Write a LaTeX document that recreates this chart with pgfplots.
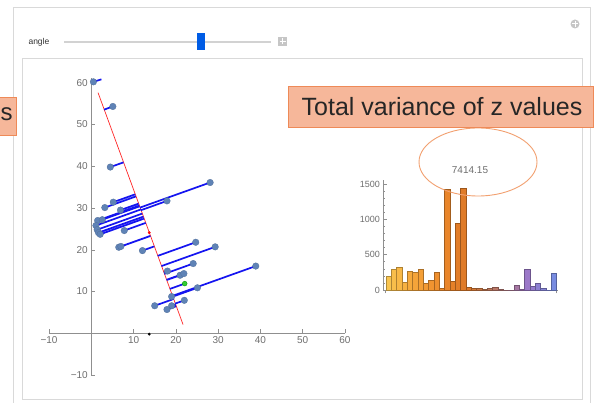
\documentclass[border=0pt]{standalone}
\usepackage{fontspec}
\setmainfont{Liberation Sans}
\usepackage{pgfplots}
\pgfplotsset{compat=1.18}
\definecolor{ptblue}{HTML}{5F83B6}
\definecolor{segblue}{HTML}{1414F0}
\definecolor{axgray}{HTML}{8F8F8F}
\definecolor{lblgray}{HTML}{6E6E6E}
\definecolor{boxfill}{HTML}{F6B79A}
\definecolor{boxedge}{HTML}{EE8A58}
\definecolor{ellcol}{HTML}{F2A070}
\definecolor{h0}{HTML}{F9C550}\definecolor{h1}{HTML}{F8BE4B}\definecolor{h2}{HTML}{F8B846}\definecolor{h3}{HTML}{F7B141}
\definecolor{h4}{HTML}{F6AA3C}\definecolor{h5}{HTML}{F5A439}\definecolor{h6}{HTML}{F49F36}\definecolor{h7}{HTML}{F29933}
\definecolor{h8}{HTML}{F19430}\definecolor{h9}{HTML}{EE8F2E}\definecolor{h10}{HTML}{EC8A2C}\definecolor{h11}{HTML}{E9852A}
\definecolor{h12}{HTML}{E68028}\definecolor{h13}{HTML}{E37D28}\definecolor{h14}{HTML}{DF7B28}\definecolor{h15}{HTML}{DC7828}
\definecolor{h16}{HTML}{D47835}\definecolor{h17}{HTML}{CB7843}\definecolor{h18}{HTML}{C37850}\definecolor{h19}{HTML}{BE785B}
\definecolor{h20}{HTML}{B97767}\definecolor{h21}{HTML}{B47772}\definecolor{h22}{HTML}{AF767D}\definecolor{h23}{HTML}{AA7690}
\definecolor{h24}{HTML}{A577A3}\definecolor{h25}{HTML}{A077B5}\definecolor{h26}{HTML}{9B78C8}\definecolor{h27}{HTML}{947CCD}
\definecolor{h28}{HTML}{8D80D2}\definecolor{h29}{HTML}{8684D7}\definecolor{h30}{HTML}{7F88DC}\definecolor{h31}{HTML}{788CE1}
\pgfplotsset{hb/.style={ybar, bar shift=0pt, bar width=1, fill=#1, draw=#1!70!black, line width=0.3pt}}
\begin{document}
\begin{tikzpicture}[x=1pt,y=1pt]
\useasboundingbox (0,0) rectangle (607,403);
\fill[white] (0,0) rectangle (607,403);
% frames
\draw[gray!30, line width=0.8pt] (13,-5) -- (13,396) -- (590,396) -- (590,-5);
\draw[gray!30, line width=0.8pt] (22,4) rectangle (582,345);
% slider
\node[anchor=west, font=\fontsize{8.5}{8.5}\selectfont, text=black!80] at (25,361) {angle};
\draw[gray!35, line width=1.6pt] (64,361) -- (271,361);
\fill[blue!60!cyan!90!black] (197,353) rectangle (205,370);
\fill[gray!45] (278,357) rectangle (287,366);
\draw[white, line width=1pt] (279.5,361.5) -- (285.5,361.5) (282.5,358.5) -- (282.5,364.5);
\fill[gray!45] (575,379) circle (4.5);
\draw[white, line width=1pt] (572,379) -- (578,379) (575,376) -- (575,382);
% left cut box
\draw[boxedge, fill=boxfill, line width=0.8pt] (-5,268) rectangle (16,306);
\node[anchor=west, font=\fontsize{24}{24}\selectfont, text=black!85, inner sep=0pt] at (0.5,289) {s};
% scatter axis
\begin{axis}[at={(49pt,27.9pt)}, anchor=south west, scale only axis,
  width=296pt, height=296.6pt, xmin=-10, xmax=60, ymin=-10, ymax=61,
  axis lines=middle, axis line style={axgray, line width=0.6pt, -},
  xtick={-10,10,20,30,40,50,60}, ytick={-10,10,20,30,40,50,60},
  xticklabels={−10,10,20,30,40,50,60}, yticklabels={−10,10,20,30,40,50,60},
  minor tick num=4, tick align=inside,
  major tick length=4pt, minor tick length=2.2pt,
  tick style={axgray, line width=0.5pt},
  ticklabel style={font=\fontsize{10}{10}\selectfont, text=lblgray},
  unbounded coords=jump, clip=false]
\addplot[red!85!white, line width=0.7pt] coordinates {(1.6,57.6) (21.7,2.1)};
\addplot[segblue, line width=1.7pt] coordinates {
(0.5,60.2) (2.4,60.8) (0,nan)
(5.1,54.3) (3.03,53.55) (0,nan)
(4.5,39.8) (7.61,40.92) (0,nan)
(28.1,36.1) (11.53,30.10) (0,nan)
(17.9,31.7) (11.75,29.47) (0,nan)
(5.2,31.4) (10.38,33.27) (0,nan)
(3.2,30.1) (10.56,32.77) (0,nan)
(6.9,29.5) (11.18,31.05) (0,nan)
(1.5,27.0) (11.36,30.57) (0,nan)
(2.6,27.2) (11.42,30.40) (0,nan)
(1.1,25.8) (11.69,29.64) (0,nan)
(1.4,24.8) (12.05,28.66) (0,nan)
(1.7,24.1) (12.31,27.94) (0,nan)
(2.1,23.7) (12.48,27.46) (0,nan)
(7.8,24.6) (12.86,26.43) (0,nan)
(6.5,20.6) (13.99,23.31) (0,nan)
(7.0,20.8) (13.98,23.33) (0,nan)
(12.1,19.8) (14.89,20.81) (0,nan)
(24.7,21.8) (15.71,18.54) (0,nan)
(29.3,20.7) (16.60,16.10) (0,nan)
(24.1,16.7) (17.28,14.23) (0,nan)
(18.0,14.9) (17.15,14.59) (0,nan)
(21.0,13.9) (17.81,12.75) (0,nan)
(21.9,14.3) (17.79,12.81) (0,nan)
(22.1,11.9) (18.58,10.63) (0,nan)
(25.1,10.9) (19.25,8.78) (0,nan)
(38.9,16.1) (19.19,8.96) (0,nan)
(15.0,6.6) (19.46,8.21) (0,nan)
(22.0,7.9) (19.85,7.12) (0,nan)
(19.0,6.6) (19.92,6.93) (0,nan)
(17.9,5.7) (20.08,6.49) (0,nan)
(19.0,8.8) (19.21,8.88)
};
\addplot[only marks, mark=*, mark size=3.3pt, mark options={fill=ptblue, draw=ptblue!85!black, line width=0.3pt}] coordinates {
(0.5,60.2) (5.1,54.3) (4.5,39.8) (28.1,36.1) (17.9,31.7) (5.2,31.4) (3.2,30.1) (6.9,29.5)
(1.5,27.0) (2.6,27.2) (1.1,25.8) (1.4,24.8) (1.7,24.1) (2.1,23.7) (7.8,24.6) (6.5,20.6)
(7.0,20.8) (12.1,19.8) (24.7,21.8) (29.3,20.7) (24.1,16.7) (18.0,14.9) (21.0,13.9) (21.9,14.3)
(25.1,10.9) (38.9,16.1) (15.0,6.6) (22.0,7.9) (19.0,6.6) (17.9,5.7) (19.0,8.8)};
\addplot[only marks, mark=*, mark size=2.4pt, mark options={fill=green!75!black!80, draw=green!60!black}] coordinates {(22.1,11.9)};
\addplot[only marks, mark=*, mark size=1.2pt, red] coordinates {(13.7,24.1)};
\addplot[only marks, mark=*, mark size=1.2pt, black] coordinates {(13.7,-0.2)};
\end{axis}
% histogram
\begin{axis}[at={(383.3pt,113pt)}, anchor=south west, scale only axis,
  width=174.7pt, height=110.2pt, xmin=0, xmax=32.75, ymin=0, ymax=1560,
  axis lines=left, axis line style={axgray, line width=0.6pt, -},
  xtick={0.45,32.45}, xticklabels={}, xtick align=outside,
  ytick={0,500,1000,1500}, minor y tick num=4, ytick align=inside,
  major tick length=3.5pt, minor tick length=2pt,
  tick style={axgray, line width=0.5pt},
  ticklabel style={font=\fontsize{9}{9}\selectfont, text=lblgray},
  /pgf/number format/1000 sep={},
  /pgf/number format/assume math mode=true, clip=false]
\addplot[hb=h0] coordinates {(0.95,198)};
\addplot[hb=h1] coordinates {(1.95,302)};
\addplot[hb=h2] coordinates {(2.95,325)};
\addplot[hb=h3] coordinates {(3.95,104)};
\addplot[hb=h4] coordinates {(4.95,269)};
\addplot[hb=h5] coordinates {(5.95,250)};
\addplot[hb=h6] coordinates {(6.95,302)};
\addplot[hb=h7] coordinates {(7.95,94)};
\addplot[hb=h8] coordinates {(8.95,137)};
\addplot[hb=h9] coordinates {(9.95,255)};
\addplot[hb=h10] coordinates {(10.95,24)};
\addplot[hb=h11] coordinates {(11.95,1425)};
\addplot[hb=h12] coordinates {(12.95,132)};
\addplot[hb=h13] coordinates {(13.95,953)};
\addplot[hb=h14] coordinates {(14.95,1448)};
\addplot[hb=h15] coordinates {(15.95,47)};
\addplot[hb=h16] coordinates {(16.95,25)};
\addplot[hb=h17] coordinates {(17.95,30)};
\addplot[hb=h18] coordinates {(18.95,8)};
\addplot[hb=h19] coordinates {(19.95,20)};
\addplot[hb=h20] coordinates {(20.95,38)};
\addplot[hb=h21] coordinates {(21.95,6)};
\addplot[hb=h22] coordinates {(22.95,4)};
\addplot[hb=h23] coordinates {(23.95,2)};
\addplot[hb=h24] coordinates {(24.95,75)};
\addplot[hb=h25] coordinates {(25.95,18)};
\addplot[hb=h26] coordinates {(26.95,297)};
\addplot[hb=h27] coordinates {(27.95,50)};
\addplot[hb=h28] coordinates {(28.95,90)};
\addplot[hb=h29] coordinates {(29.95,30)};
\addplot[hb=h30] coordinates {(30.95,2)};
\addplot[hb=h31] coordinates {(31.95,240)};
\end{axis}
% annotations
\draw[ellcol, line width=0.9pt] (478,241) ellipse [x radius=59, y radius=34];
\node[font=\fontsize{10}{10}\selectfont, text=lblgray] at (470,233) {7414.15};
\draw[boxedge, fill=boxfill, line width=0.8pt] (288,276) rectangle (593,317);
\node[font=\fontsize{25}{25}\selectfont, text=black!85] at (442,296.5) {Total variance of z values};
\end{tikzpicture}
\end{document}
